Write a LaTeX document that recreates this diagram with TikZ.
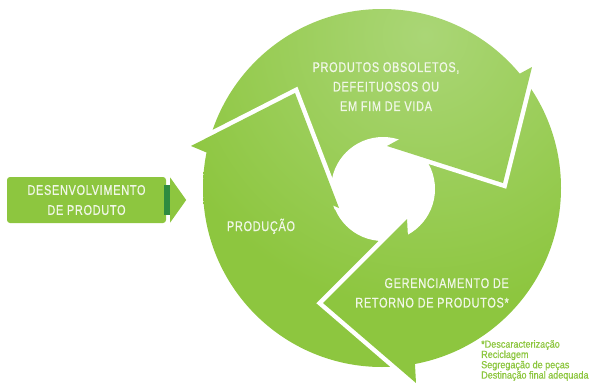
\documentclass[tikz,border=0pt]{standalone}
\usepackage{fontspec}
\usetikzlibrary{positioning,calc}
\newfontfamily\capsfont[FakeStretch=0.78,LetterSpace=5,FakeBold=0.6]{Liberation Sans}
\newfontfamily\notefont[FakeStretch=0.88,FakeBold=0.8]{Liberation Sans}
\definecolor{ringgreen}{HTML}{8DC63F}
\definecolor{ringtop}{HTML}{AAD676}
\definecolor{devdark}{HTML}{2E8B40}
\definecolor{labelwhite}{HTML}{F1F7E8}
\pgfdeclareradialshading{ringlight}{\pgfpoint{0bp}{0bp}}{color(0bp)=(ringtop); color(16bp)=(ringgreen); color(50bp)=(ringgreen)}
\newcommand{\ringshade}{\shade[shading=ringlight] (425,35) circle (430pt);}
\tikzset{
    ring label/.style={text=labelwhite, inner sep=0pt, font=\capsfont\fontsize{14}{19.5}\selectfont},
    dev box/.style={rectangle, rounded corners=3pt, fill=ringgreen, text=labelwhite, minimum width=159pt, minimum height=46pt, align=center, inner sep=0pt, font=\capsfont\fontsize{14}{20}\selectfont},
    gap line/.style={white, line width=9pt, miter limit=20},
    note/.style={text=ringgreen, inner sep=0pt, align=left, font=\notefont\fontsize{10.3}{10.3}\selectfont}
}

\begin{document}
\begin{tikzpicture}[x=1pt, y=-1pt]
    \useasboundingbox (0,0) rectangle (592,383);
    % chevrons between the arrows: outer barb, apex, inner barb
    \coordinate (o1) at (191,146); \coordinate (a1) at (295,93);  \coordinate (i1) at (339,208);
    \coordinate (o2) at (532,67);  \coordinate (a2) at (503,183); \coordinate (i2) at (387,146);
    \coordinate (o3) at (416,383); \coordinate (a3) at (323,303); \coordinate (i3) at (407,219);
    \coordinate (ring) at (382,188);
    \coordinate (hub) at (383,189);
    % ring
    \begin{scope}
        \clip (ring) circle (179pt);
        \ringshade
    \end{scope}
    \fill[white] (hub) circle (52pt);
    \foreach \s in {1,2,3}
        \draw[gap line] (o\s) -- (a\s) -- (i\s);
    \foreach \s in {1,2,3}{
        \begin{scope}
            \clip (o\s) -- (a\s) -- (i\s) -- cycle;
            \ringshade
        \end{scope}}
    % labels
    \node[ring label, align=center, anchor=north] (obsolete) at (386,62) {PRODUTOS OBSOLETOS,\\DEFEITUOSOS OU\\EM FIM DE VIDA};
    \node[ring label, anchor=base] (production) at (261,231) {PRODUÇÃO};
    \node[ring label, align=right, anchor=north east] (returns) at (509,278) {GERENCIAMENTO DE\\RETORNO DE PRODUTOS*};
    \node[note, anchor=north west] (notes) at (481,340) {*Descaracterização\\Reciclagem\\Segregação de peças\\Destinação final adequada};
    % input box
    \node[dev box] (dev) at (86.5,200) {DESENVOLVIMENTO\\DE PRODUTO};
    \fill[devdark] ([xshift=-2pt,yshift=15pt]dev.east) rectangle ([xshift=4pt,yshift=-15pt]dev.east);
    \fill[ringgreen] ([xshift=4pt,yshift=22.5pt]dev.east) -- ([xshift=20pt]dev.east) -- ([xshift=4pt,yshift=-22.5pt]dev.east) -- cycle;
\end{tikzpicture}
\end{document}
